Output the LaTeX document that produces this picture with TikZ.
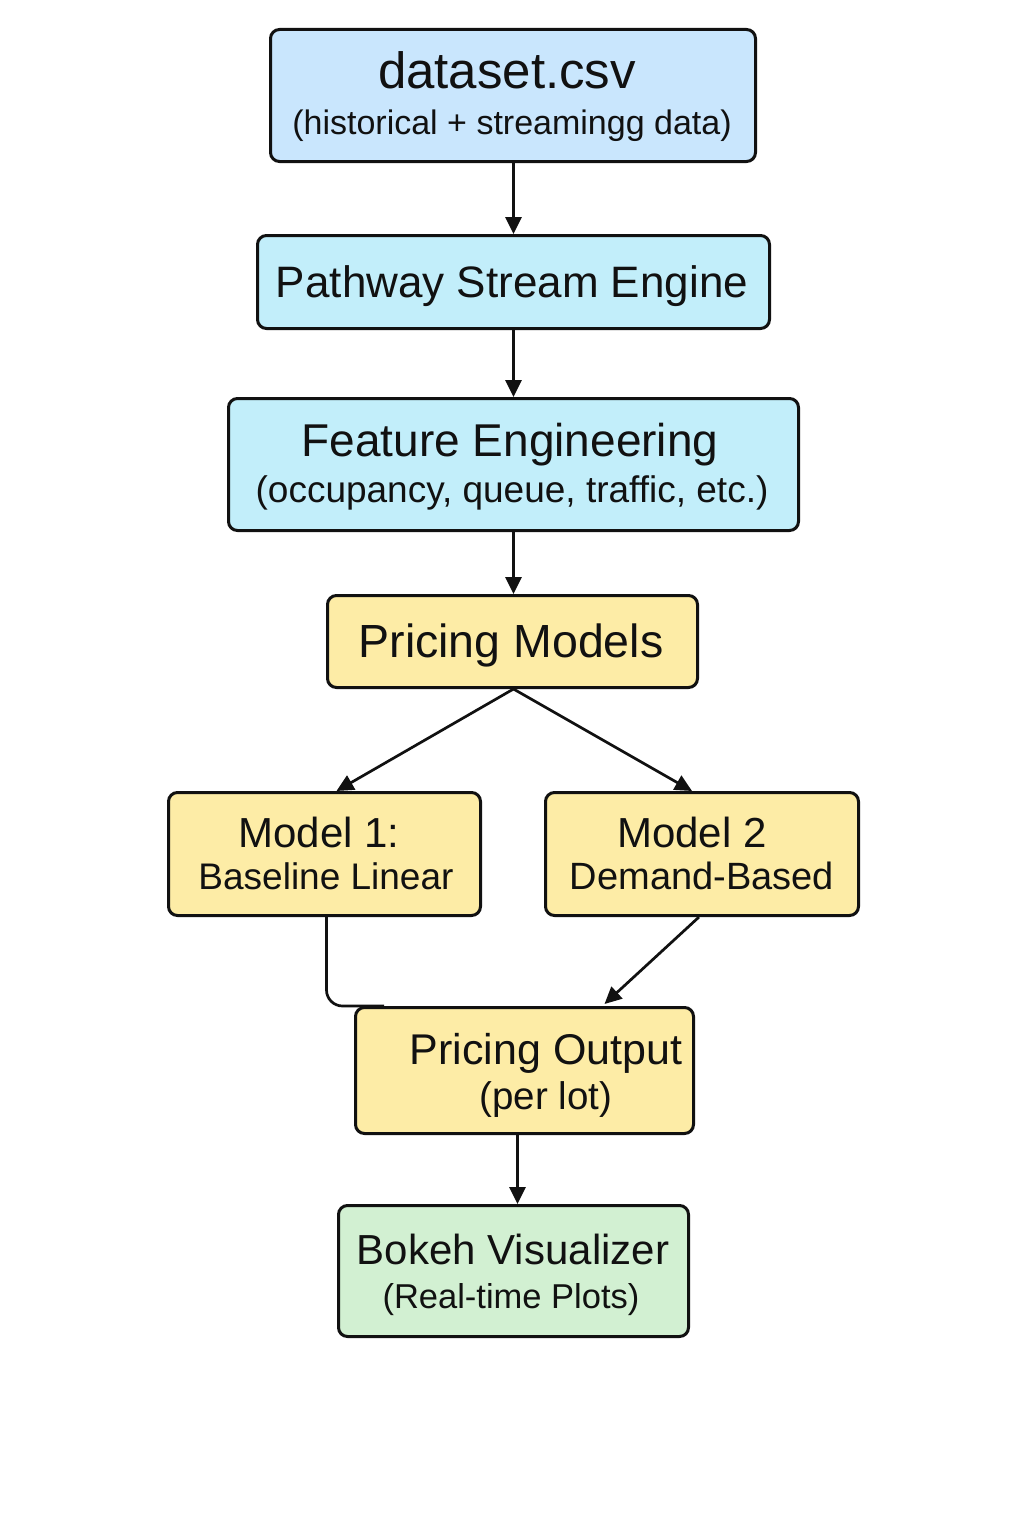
\documentclass[tikz,border=0pt]{standalone}
\usepackage{fontspec}
\setmainfont{Liberation Sans}
\usetikzlibrary{arrows.meta,calc}
\definecolor{dsblue}{HTML}{C9E6FD}
\definecolor{cyanbox}{HTML}{C2EEFA}
\definecolor{yelbox}{HTML}{FDECA6}
\definecolor{grnbox}{HTML}{D2F0D2}
\definecolor{ink}{HTML}{111111}
\newcommand{\fs}[1]{\fontsize{#1}{#1}\selectfont}
\begin{document}
\begin{tikzpicture}[x=1pt,y=-1pt,
  box/.style={draw=ink,line width=3pt,rounded corners=9pt,inner sep=0pt,anchor=north west},
  txt/.style={anchor=base,inner sep=0pt,text=ink},
  conn/.style={draw=ink,line width=2.7pt},
  arr/.style={conn,-{Triangle[length=17pt,width=16pt]}}]
\useasboundingbox[fill=white] (0,0) rectangle (1024,1536);
% boxes
\node[box,fill=dsblue,minimum width=485pt,minimum height=132pt] (ds) at (269,28) {};
\node[box,fill=cyanbox,minimum width=512pt,minimum height=93pt] (pw) at (256,234) {};
\node[box,fill=cyanbox,minimum width=570pt,minimum height=132pt] (fe) at (227,397) {};
\node[box,fill=yelbox,minimum width=370pt,minimum height=92pt] (pm) at (326,594) {};
\node[box,fill=yelbox,minimum width=312pt,minimum height=123pt] (m1) at (167,791) {};
\node[box,fill=yelbox,minimum width=313pt,minimum height=123pt] (m2) at (544,791) {};
\node[box,fill=yelbox,minimum width=338pt,minimum height=126pt] (po) at (354,1006) {};
\node[box,fill=grnbox,minimum width=350pt,minimum height=131pt] (bk) at (337,1204) {};
% texts
\node[txt] (t1) at (507,89) {\fs{51}dataset.csv};
\node[txt] (t2) at (512,135) {\fs{34}(historical + streamingg data)};
\node[txt] (t3) at (512,297) {\fs{44}Pathway Stream Engine};
\node[txt] (t4) at (510,456) {\fs{46}Feature Engineering};
\node[txt] (t5) at (512,502) {\fs{37}(occupancy, queue, traffic, etc.)};
\node[txt] (t6) at (511,657) {\fs{46.5}Pricing Models};
\node[txt] (t7) at (319,847) {\fs{42}Model 1:};
\node[txt] (t8) at (326,889) {\fs{37}Baseline Linear};
\node[txt] (t9) at (692,847) {\fs{42}Model 2};
\node[txt] (t10) at (702,889) {\fs{38}Demand-Based};
\node[txt] (t11) at (546,1064) {\fs{43}Pricing Output};
\node[txt] (t12) at (546,1109) {\fs{38.5}(per lot)};
\node[txt] (t13) at (513,1264) {\fs{42}Bokeh Visualizer};
\node[txt] (t14) at (511,1308) {\fs{34.5}(Real-time Plots)};
% connectors
\draw[arr] (pw.north |- ds.south) -- (pw.north);
\draw[arr] (pw.south) -- (fe.north);
\draw[arr] (fe.south) -- (pm.north -| fe.south);
\coordinate (pmb) at ($(pm.south)+(1,0)$);
\draw[arr] (pmb) -- ($(m1.north)+(12,0)$);
\draw[arr] (pmb) -- ($(m2.north)+(-10,0)$);
\draw[conn,rounded corners=16pt] ($(m1.south)+(2,0)$) -- ($(m1.south |- po.north)+(2,0)$) -- ($(po.north west)+(30,0)$);
\draw[arr] ($(m2.south)+(-3,0)$) -- ($(po.north)+(80,-2)$);
\draw[arr] ($(po.south)+(-7,0)$) -- ($(po.south |- bk.north)+(-7,0)$);
\end{tikzpicture}
\end{document}
